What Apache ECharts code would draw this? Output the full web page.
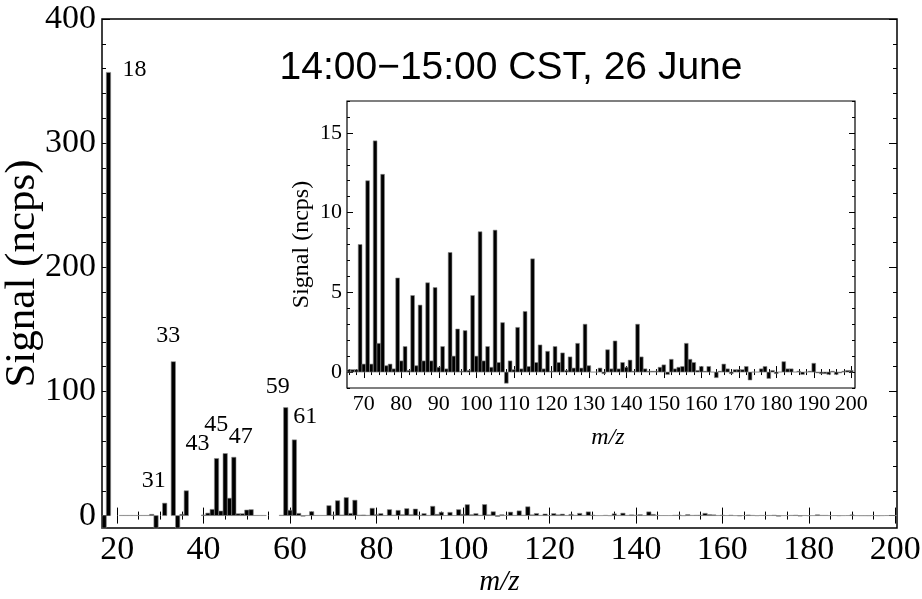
<!DOCTYPE html>
<html><head><meta charset="utf-8">
<script src="https://cdn.jsdelivr.net/npm/echarts@6/dist/echarts.min.js"></script>
<style>html,body{margin:0;padding:0;background:#fff}#c{width:922px;height:599px}</style>
</head><body><div id="c"></div>
<script>
// ---------------- data ----------------
const masses = [
  17,18,19,20,21,22,23,24,25,26,
  27,28,29,30,31,32,33,34,35,36,
  37,38,39,40,41,42,43,44,45,46,
  47,48,49,50,51,52,53,54,55,56,
  57,58,59,60,61,62,63,64,65,66,
  67,68,69,70,71,72,73,74,75,76,
  77,78,79,80,81,82,83,84,85,86,
  87,88,89,90,91,92,93,94,95,96,
  97,98,99,100,101,102,103,104,105,106,
  107,108,109,110,111,112,113,114,115,116,
  117,118,119,120,121,122,123,124,125,126,
  127,128,129,130,131,132,133,134,135,136,
  137,138,139,140,141,142,143,144,145,146,
  147,148,149,150,151,152,153,154,155,156,
  157,158,159,160,161,162,163,164,165,166,
  167,168,169,170,171,172,173,174,175,176,
  177,178,179,180,181,182,183,184,185,186,
  187,188,189,190,191,192,193,194,195,196,
  197,198,199,200
];
const signal = [
  -10,357,null,null,0.15,0.15,0.15,0.15,0.15,0.15,
  0.15,1,-10,null,10,null,124,-10,1,20,
  null,null,null,0.5,2,5,46,3.7,50,14,
  47,1.5,1.5,4.5,4.8,0.15,0.15,0.15,null,null,
  null,0.3,87,4.3,61,1.8,-0.5,0.15,3.2,0.15,
  0.15,0.15,8.0,0.5,12.0,0.5,14.5,1.8,12.4,0.4,
  0.5,0.2,5.9,0.7,1.6,0.1,4.8,0.4,4.2,0.7,
  5.6,0.7,5.3,0.3,1.6,0.2,7.5,1.0,2.7,0.05,
  2.6,0.1,4.8,1.0,8.8,0.7,1.6,0.3,8.9,0.6,
  3.1,-0.7,0.7,0.15,2.8,0.2,3.8,0.35,7.1,0.6,
  1.7,0.2,1.3,0.05,1.6,0.6,1.2,0.1,0.95,0.25,
  1.8,0.25,3.0,0.4,0,0,0.25,-0.1,1.4,0.2,
  1.95,0.2,0.6,0.3,0.75,0.05,3.0,0.95,0.2,0.05,
  0.05,0.05,0.3,0.45,-0.15,0.8,0.2,0.3,0.35,1.8,
  0.8,0.6,0.1,0.35,0.05,0.35,0,-0.35,0.05,0.5,
  0.2,-0.1,0.15,0.15,0.15,0.35,-0.5,0,0,0.2,
  0.35,-0.4,0.1,-0.1,0,0.65,0.2,0.2,0,0.05,
  -0.15,0,0.05,0.55,-0.05,-0.1,-0.1,-0.15,0.05,-0.15,
  -0.05,0.05,0.1,0.1
];
const peakMasses = [18, 31, 33, 43, 45, 47, 59, 61];
const peakTexts  = ['18', '31', '33', '43', '45', '47', '59', '61'];

const mainXTicks = [20, 40, 60, 80, 100, 120, 140, 160, 180, 200];
const mainYTicks = [0, 100, 200, 300, 400];
const insetXTicks = [70, 80, 90, 100, 110, 120, 130, 140, 150, 160, 170, 180, 190, 200];
const insetYTicks = [0, 5, 10, 15];

const titleText = '14:00\u221215:00 CST, 26 June';
const yName = 'Signal (ncps)';
const xName = 'm/z';

// ---------------- layout / style (not data) ----------------
const MAIN = {min: 16.5, max: 200.4, ymin: -10, ymax: 400, minorX: 5, minorY: 20};
const INSET = {min: 65.5, max: 201, ymin: -1, ymax: 17, minorX: 2, minorY: 1};
// label offsets in px relative to bar top [dx, dy]
const peakOffsets = {18: [26, -3], 31: [-11, -22], 33: [-5, -26], 43: [-19, -15],
                     45: [-9, -29], 47: [7, -21], 59: [-8, -21], 61: [11, -23]};

function minorList(lo, hi, step, majors) {
  const out = [];
  for (let v = Math.ceil(lo / step) * step; v <= hi + 1e-9; v += step) {
    if (!majors.some(m => Math.abs(m - v) < 1e-9)) out.push(+v.toFixed(6));
  }
  return out;
}

const serif = 'Liberation Serif';

function axisGroup(dim, gridIndex, min, max, majors, minors, label, name, majLen, minLen) {
  const p1 = dim === 'x' ? 'bottom' : 'left';
  const p2 = dim === 'x' ? 'top' : 'right';
  const base = {
    type: 'value', gridIndex, min, max,
    axisLine: {show: false}, splitLine: {show: false},
    axisLabel: {show: false}
  };
  const tick = (len, vals) => ({show: true, inside: true, length: len, customValues: vals,
                                lineStyle: {color: '#000', width: 1}});
  return [
    Object.assign({}, base, {position: p1, axisTick: tick(majLen, majors),
      axisLabel: Object.assign({show: true, customValues: majors, color: '#000', fontFamily: serif}, label),
      name: name.text, nameLocation: 'middle', nameGap: name.gap, nameMoveOverlap: false,
      nameTextStyle: Object.assign({color: '#000', fontFamily: serif}, name.style)}),
    Object.assign({}, base, {position: p1, axisTick: tick(minLen, minors)}),
    Object.assign({}, base, {position: p2, axisTick: tick(majLen, majors)}),
    Object.assign({}, base, {position: p2, axisTick: tick(minLen, minors)})
  ];
}

const xAxes = [].concat(
  axisGroup('x', 0, MAIN.min, MAIN.max, mainXTicks, minorList(MAIN.min, MAIN.max, MAIN.minorX, mainXTicks),
    {fontSize: 34, margin: 5}, {text: xName, gap: 40, style: {fontSize: 29, fontStyle: 'italic'}}, 8, 4),
  axisGroup('x', 1, INSET.min, INSET.max, insetXTicks, minorList(INSET.min, INSET.max, INSET.minorX, insetXTicks),
    {fontSize: 22, margin: 5}, {text: xName, gap: 38, style: {fontSize: 24, fontStyle: 'italic', padding: [0, 0, 0, 14]}}, 6, 3)
);
const yAxes = [].concat(
  axisGroup('y', 0, MAIN.ymin, MAIN.ymax, mainYTicks, minorList(MAIN.ymin, MAIN.ymax, MAIN.minorY, mainYTicks),
    {fontSize: 34, margin: 6}, {text: yName, gap: 58, style: {fontSize: 43}}, 8, 4),
  axisGroup('y', 1, INSET.ymin, INSET.ymax, insetYTicks, minorList(INSET.ymin, INSET.ymax, INSET.minorY, insetYTicks),
    {fontSize: 22, margin: 5}, {text: yName, gap: 33, style: {fontSize: 24}}, 6, 3)
);

const barData = [];
masses.forEach((m, i) => { if (signal[i] !== null) barData.push([m, signal[i]]); });

function barItem(params, api) {
  const m = api.value(0), v = api.value(1);
  const a = api.coord([m - 0.5, 0]);
  const b = api.coord([m + 0.5, v]);
  const cs = params.coordSys;
  const r = echarts.graphic.clipRectByRect(
    {x: a[0], y: Math.min(a[1], b[1]), width: b[0] - a[0], height: Math.abs(b[1] - a[1])},
    {x: cs.x, y: cs.y, width: cs.width, height: cs.height});
  if (!r) return null;
  return {type: 'rect', shape: r, style: {fill: '#000', stroke: '#8a8a8a', lineWidth: 0.6}};
}

const peakData = peakMasses.map((m, i) => [m, signal[masses.indexOf(m)]]);

const chart = echarts.init(document.getElementById('c'), null, {renderer: 'canvas'});
chart.setOption({
  animation: false,
  backgroundColor: '#fff',
  grid: [
    {left: 102, top: 19, right: 25, bottom: 71, show: true, borderColor: '#000', borderWidth: 1.5,
     backgroundColor: '#fff', outerBoundsMode: 'none', containLabel: false},
    {left: 347, top: 101, right: 67, bottom: 211, show: true, borderColor: '#000', borderWidth: 1.2,
     backgroundColor: '#fff', z: 5, outerBoundsMode: 'none', containLabel: false}
  ],
  xAxis: xAxes.map((a, i) => Object.assign(a, {z: i >= 4 ? 6 : 2})),
  yAxis: yAxes.map((a, i) => Object.assign(a, {z: i >= 4 ? 6 : 2})),
  graphic: [{
    type: 'text', x: 511, y: 68, z: 10,
    style: {text: titleText, fill: '#000', font: '39px "Liberation Sans"', align: 'center', verticalAlign: 'middle'}
  }],
  series: [
    {type: 'custom', xAxisIndex: 0, yAxisIndex: 0, data: barData, renderItem: barItem, z: 3, silent: true},
    {type: 'custom', xAxisIndex: 0, yAxisIndex: 0, data: peakData, z: 4, silent: true,
      renderItem: (params, api) => {
        const m = api.value(0);
        const p = api.coord([m, api.value(1)]);
        const off = peakOffsets[m] || [0, -15];
        return {type: 'text', x: p[0] + off[0], y: p[1] + off[1],
          style: {text: peakTexts[peakMasses.indexOf(m)], fill: '#000', font: '24px "Liberation Serif"',
                  align: 'center', verticalAlign: 'middle'}};
      }},
    {type: 'custom', xAxisIndex: 4, yAxisIndex: 4, data: barData.filter(d => d[0] >= 66), renderItem: barItem, z: 7, silent: true}
  ]
});
</script></body></html>
